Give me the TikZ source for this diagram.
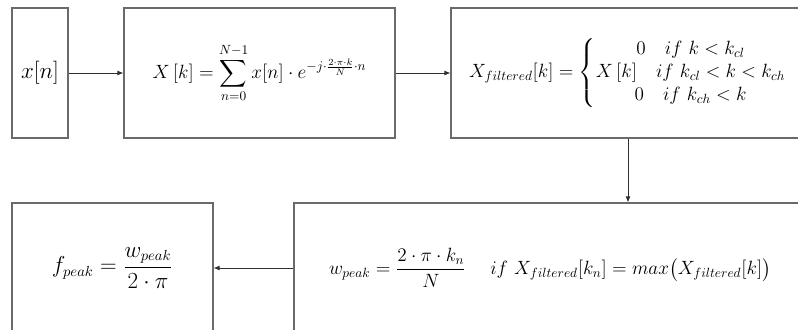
\documentclass[tikz,border=0pt]{standalone}
\usepackage{amsmath}
\usepackage{amssymb}
\usepackage{tikz}
\usetikzlibrary{arrows.meta, positioning, calc}
\usepackage{xcolor}
\definecolor{dspgrey}{HTML}{6A6A6A}
\definecolor{dsparrow}{HTML}{303030}

\begin{document}
\begin{tikzpicture}[
    x=0.75pt, y=-0.75pt,
    font=\fontsize{16}{19}\selectfont,
    blk/.style={draw=dspgrey, line width=0.8pt, inner sep=0pt, align=center},
    wide/.style={font=\fontsize{14.3}{17}\selectfont},
    arr/.style={-{Latex[length=1.6mm, width=1.3mm]}, dsparrow, line width=0.6pt}]

  \useasboundingbox (0,0) rectangle (798,329);
  \clip (0,0) rectangle (798,329);

  \node[blk, minimum width=42pt, minimum height=97.5pt] (xn) at (40,73) {$x[n]$};

  \node[blk, wide, minimum width=203.25pt, minimum height=97.5pt] (dft) at (259.5,73) {%
    $\displaystyle X\,[k] = \sum_{n=0}^{N-1} x[n]\cdot e^{-j\cdot\frac{2\cdot\pi\cdot k}{N}\cdot n}$};

  \node[blk, minimum width=265.5pt, minimum height=97.5pt] (filt) at (628,73) {};
  \node[wide, inner sep=0pt] (filttxt) at (filt.center) {%
    $X_{filtered}[k] = \left\{\begin{array}{@{}c@{}}
      0\quad if\ k < k_{cl}\\
      X\,[k]\quad if\ k_{cl} < k < k_{ch}\\
      0\quad if\ k_{ch} < k
    \end{array}\right.$};

  \node[blk, minimum width=384pt, minimum height=97.5pt] (peak) at (550,268) {};
  \node[wide, inner sep=0pt] (peaktxt) at (peak.center) {%
    $\displaystyle w_{peak} = \frac{2\cdot\pi\cdot k_n}{N}\quad\; if\ X_{filtered}[k_n] = max\bigl(X_{filtered}[k]\bigr)$};

  \node[blk, minimum width=150.75pt, minimum height=97.5pt] (freq) at (112.5,268) {%
    $\displaystyle f_{peak} = \frac{w_{peak}}{2\cdot\pi}$};

  \draw[arr] (xn.east) -- (dft.west);
  \draw[arr] (dft.east) -- (filt.west);
  \draw[arr] (filt.south) -- (filt.south |- peak.north);
  \draw[arr] (peak.west) -- (freq.east);
\end{tikzpicture}
\end{document}
